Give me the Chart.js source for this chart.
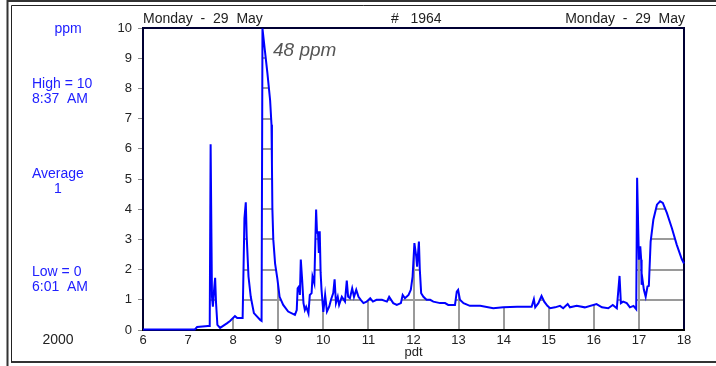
<!DOCTYPE html>
<html>
<head>
<meta charset="utf-8">
<script src="https://cdn.jsdelivr.net/npm/chart.js@4"></script>
<style>
  html, body { margin: 0; padding: 0; background: #fff; }
  canvas { display: block; }
</style>
</head>
<body>
<canvas id="ppmChart" width="716" height="366"></canvas>
<script>
// time of day (pdt, hours) and reading (ppm)
const hours = [
  6.00, 7.15, 7.20, 7.44, 7.48, 7.50, 7.53, 7.55, 7.58, 7.60, 7.62, 7.65, 7.71, 7.86, 7.93,
  8.04, 8.09, 8.21, 8.25, 8.28, 8.30, 8.34, 8.39, 8.46, 8.60, 8.63, 8.65, 8.70, 8.76, 8.82,
  8.85, 8.86, 8.87, 8.89, 8.93, 8.98, 9.03, 9.11, 9.22, 9.37, 9.41, 9.43, 9.46, 9.48, 9.50, 9.53,
  9.56, 9.59, 9.62, 9.67, 9.70, 9.74, 9.76, 9.80, 9.84, 9.86, 9.88, 9.90, 9.92, 9.94, 9.96,
  10.00, 10.04, 10.08, 10.13, 10.17, 10.22, 10.25, 10.28, 10.32, 10.35, 10.41, 10.48, 10.52,
  10.55, 10.59, 10.64, 10.68, 10.73, 10.78, 10.83, 10.89, 10.96, 11.04, 11.10, 11.18, 11.30,
  11.41, 11.46, 11.55, 11.63, 11.72, 11.76, 11.81, 11.89, 11.94, 11.98, 12.02, 12.06, 12.08,
  12.12, 12.14, 12.17, 12.22, 12.29, 12.37, 12.44, 12.59, 12.70, 12.77, 12.92, 12.96, 12.99,
  13.03, 13.11, 13.25, 13.48, 13.77, 13.99, 14.30, 14.62, 14.67, 14.70, 14.77, 14.84, 14.90,
  14.97, 15.03, 15.14, 15.25, 15.32, 15.42, 15.47, 15.62, 15.80, 16.06, 16.18, 16.32, 16.42,
  16.51, 16.57, 16.60, 16.65, 16.73, 16.80, 16.88, 16.94, 16.96, 17.00, 17.03, 17.05, 17.06,
  17.08, 17.11, 17.15, 17.19, 17.22, 17.26, 17.32, 17.40, 17.47, 17.53, 17.62, 17.73, 17.84,
  17.95, 18.00
];
const ppm = [
  0.02, 0.02, 0.10, 0.13, 0.13, 6.15, 1.10, 0.77, 1.40, 1.73, 0.90, 0.17, 0.07, 0.22, 0.30,
  0.46, 0.40, 0.40, 3.70, 4.23, 3.10, 1.77, 1.10, 0.56, 0.33, 0.30, 9.98, 9.30, 8.50, 7.60,
  6.80, 5.50, 4.00, 3.00, 2.20, 1.70, 1.10, 0.83, 0.61, 0.50, 0.66, 1.38, 1.44, 1.16, 2.33, 1.66,
  0.89, 0.66, 0.77, 0.55, 1.16, 1.22, 1.77, 1.55, 3.99, 3.22, 3.27, 2.55, 3.27, 1.89, 1.33,
  0.60, 1.16, 0.61, 0.77, 1.00, 1.22, 1.68, 0.89, 1.10, 0.83, 1.10, 0.94, 1.64,
  1.10, 1.05, 1.38, 1.10, 1.33, 1.10, 1.00, 0.89, 0.94, 1.05, 0.94, 1.00, 1.00,
  0.94, 1.10, 0.89, 0.83, 0.89, 1.16, 1.05, 1.16, 1.33, 1.77, 2.88, 2.44, 2.10,
  2.93, 2.00, 1.22, 1.10, 1.00, 1.00, 0.94, 0.89, 0.89, 0.83, 0.83, 1.27, 1.33,
  1.00, 0.89, 0.80, 0.80, 0.72, 0.75, 0.77, 0.77, 1.02, 0.75, 0.89, 1.13, 0.94,
  0.80, 0.72, 0.75, 0.80, 0.72, 0.86, 0.75, 0.80, 0.75, 0.86, 0.75, 0.72, 0.83,
  0.72, 1.79, 0.89, 0.94, 0.89, 0.75, 0.80, 0.69, 5.04, 2.33, 2.77, 2.33, 1.50,
  1.66, 1.33, 1.10, 1.44, 1.46, 2.93, 3.65, 4.15, 4.26, 4.21, 3.88, 3.38, 2.82,
  2.35, 2.20
];
const xTicks = [6, 7, 8, 9, 10, 11, 12, 13, 14, 15, 16, 17, 18];
const yTicks = [0, 1, 2, 3, 4, 5, 6, 7, 8, 9, 10];

const dayLabel = 'Monday  -  29  May';
const chartNo = '#   1964';
const sideNotes = [
  { text: 'ppm', x: 68, y: 33, align: 'center' },
  { text: 'High = 10', x: 32, y: 88, align: 'left' },
  { text: '8:37  AM', x: 32, y: 103, align: 'left' },
  { text: 'Average', x: 32, y: 178, align: 'left' },
  { text: '1', x: 58, y: 193, align: 'center' },
  { text: 'Low = 0', x: 32, y: 276, align: 'left' },
  { text: '6:01  AM', x: 32, y: 291, align: 'left' }
];

const FONT = "'Liberation Sans', Arial, sans-serif";

// grid lines only show up underneath the trace
const gridUnderCurve = {
  id: 'gridUnderCurve',
  beforeDatasetsDraw(chart) {
    const ctx = chart.ctx;
    const a = chart.chartArea;
    const xs = chart.scales.x, ys = chart.scales.y;
    const pts = chart.getDatasetMeta(0).data;
    const base = ys.getPixelForValue(0);

    ctx.save();
    ctx.beginPath();
    ctx.moveTo(pts[0].x, base);
    pts.forEach(p => ctx.lineTo(p.x, p.y));
    ctx.lineTo(pts[pts.length - 1].x, base);
    ctx.closePath();
    ctx.clip();
    ctx.strokeStyle = '#9a9a9a';
    ctx.lineWidth = 2;
    ctx.beginPath();
    xTicks.slice(1, -1).forEach(v => {
      const px = Math.round(xs.getPixelForValue(v));
      ctx.moveTo(px, a.top);
      ctx.lineTo(px, a.bottom);
    });
    yTicks.slice(1, -1).forEach(v => {
      const py = Math.round(ys.getPixelForValue(v));
      ctx.moveTo(a.left, py);
      ctx.lineTo(a.right, py);
    });
    ctx.stroke();
    ctx.restore();

    // plot box
    ctx.save();
    ctx.lineWidth = 2;
    ctx.strokeStyle = '#000033';
    ctx.beginPath();
    ctx.moveTo(a.left, a.bottom);
    ctx.lineTo(a.left, a.top);
    ctx.lineTo(a.right, a.top);
    ctx.lineTo(a.right, a.bottom);
    ctx.stroke();
    ctx.strokeStyle = '#000';
    ctx.beginPath();
    ctx.moveTo(a.left - 1, a.bottom);
    ctx.lineTo(a.right + 1, a.bottom);
    ctx.stroke();
    ctx.restore();
  }
};

const labelsAndFrame = {
  id: 'labelsAndFrame',
  afterDraw(chart) {
    const ctx = chart.ctx;
    const a = chart.chartArea;
    ctx.save();

    // outer double frame
    ctx.strokeStyle = '#333';
    ctx.lineWidth = 2;
    ctx.beginPath();
    ctx.moveTo(7.5, 366); ctx.lineTo(7.5, 1); ctx.lineTo(716, 1);
    ctx.stroke();
    ctx.beginPath();
    ctx.moveTo(11, 362); ctx.lineTo(716, 362);
    ctx.stroke();
    ctx.lineWidth = 1;
    ctx.strokeStyle = '#222';
    ctx.beginPath();
    ctx.moveTo(11.5, 362); ctx.lineTo(11.5, 5.5); ctx.lineTo(716, 5.5);
    ctx.stroke();

    // header
    ctx.fillStyle = '#222';
    ctx.font = '14px ' + FONT;
    ctx.textBaseline = 'alphabetic';
    ctx.textAlign = 'left';
    ctx.fillText(dayLabel, a.left, 23);
    ctx.fillText(chartNo, 391, 23);
    ctx.textAlign = 'right';
    ctx.fillText(dayLabel, a.right + 1, 23);

    // axis name
    ctx.textAlign = 'center';
    ctx.font = '13px ' + FONT;
    ctx.fillText('pdt', (a.left + a.right) / 2, 356);

    // year
    ctx.font = '14px ' + FONT;
    ctx.fillText('2000', 58, 344);

    // side notes
    ctx.fillStyle = '#2020ff';
    sideNotes.forEach(n => {
      ctx.textAlign = n.align;
      ctx.fillText(n.text, n.x, n.y);
    });

    // handwritten note
    ctx.fillStyle = '#555';
    ctx.font = 'italic 19px ' + FONT;
    ctx.textAlign = 'left';
    ctx.fillText('48 ppm', 273, 56);

    ctx.restore();
  }
};

new Chart(document.getElementById('ppmChart').getContext('2d'), {
  type: 'line',
  data: {
    datasets: [{
      label: 'ppm',
      data: hours.map((h, i) => ({ x: h, y: ppm[i] })),
      borderColor: '#0000ff',
      borderWidth: 2,
      pointRadius: 0,
      tension: 0,
      fill: false,
      clip: 3
    }]
  },
  options: {
    responsive: false,
    animation: false,
    events: [],
    layout: { padding: { top: 28, right: 32, bottom: 0, left: 0 } },
    plugins: {
      legend: { display: false },
      tooltip: { enabled: false },
      title: { display: false }
    },
    scales: {
      x: {
        type: 'linear',
        min: 6,
        max: 18,
        afterFit: s => { s.height = 36; },
        afterBuildTicks: s => { s.ticks = xTicks.map(v => ({ value: v })); },
        grid: { display: false, drawTicks: false },
        border: { display: false },
        ticks: {
          padding: 3,
          color: '#222',
          font: { family: FONT, size: 13 },
          maxRotation: 0,
          autoSkip: false
        }
      },
      y: {
        type: 'linear',
        min: 0,
        max: 10,
        afterFit: s => { s.width = 143; },
        afterBuildTicks: s => { s.ticks = yTicks.map(v => ({ value: v })); },
        grid: {
          display: true,
          drawOnChartArea: false,
          drawTicks: true,
          tickLength: 5,
          color: '#8a8a8a',
          lineWidth: 1
        },
        border: { display: false },
        ticks: {
          padding: 6,
          color: '#222',
          font: { family: FONT, size: 13 },
          autoSkip: false
        }
      }
    }
  },
  plugins: [gridUnderCurve, labelsAndFrame]
});
</script>
</body>
</html>
